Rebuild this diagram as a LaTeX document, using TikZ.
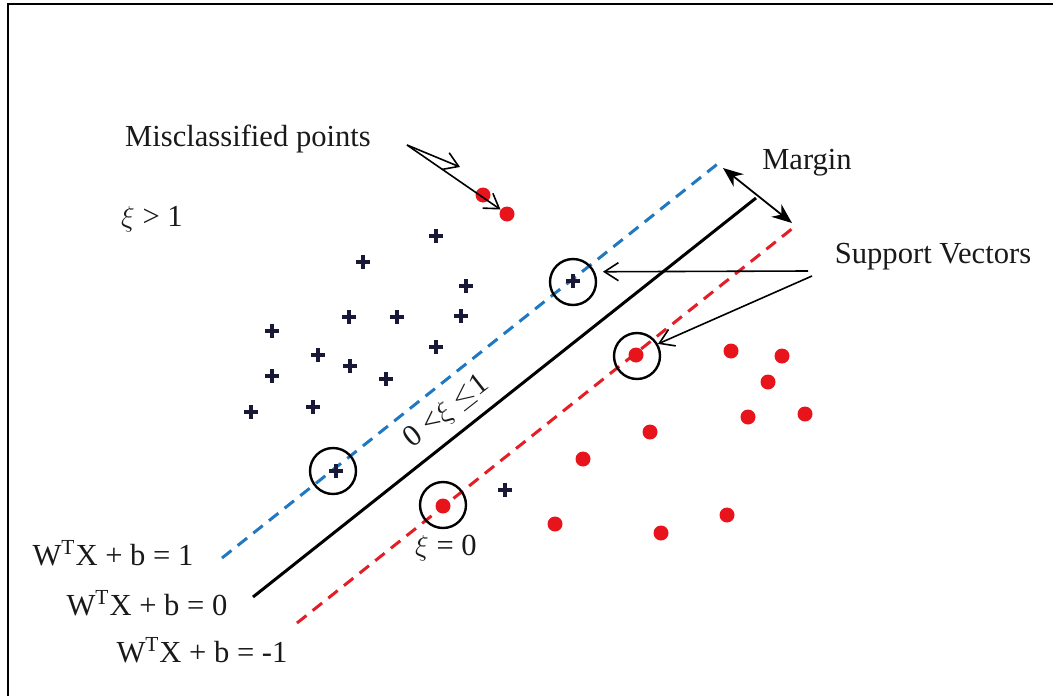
\documentclass[tikz,border=0pt]{standalone}
\usepackage{fontspec}
\setmainfont{Liberation Serif}
\usepackage{amsmath,amssymb}
\usetikzlibrary{arrows.meta,calc}

\definecolor{svblue}{RGB}{31,120,193}
\definecolor{svred}{RGB}{228,30,38}
\definecolor{dotred}{RGB}{232,20,28}
\definecolor{plusnavy}{RGB}{25,25,55}

\begin{document}
\begin{tikzpicture}[x=0.5pt,y=-0.5pt,
  lbl/.style={inner sep=0pt,text=black!90,font=\fontsize{15.3}{18}\selectfont},
  plusmark/.style={minimum size=7pt,inner sep=0pt,
    path picture={\draw[plusnavy,line width=2pt]
      (path picture bounding box.west) -- (path picture bounding box.east)
      (path picture bounding box.north) -- (path picture bounding box.south);}},
  reddot/.style={circle,fill=dotred,minimum size=7.5pt,inner sep=0pt},
  svring/.style={circle,draw,line width=1.2pt,minimum size=23pt,inner sep=0pt},
  thinarrow/.style={line width=0.8pt,-{Straight Barb[length=7pt,width=9pt]}},
  dashline/.style={line width=1.5pt,dash pattern=on 6pt off 4pt}]
  \useasboundingbox (0,0) rectangle (1053,696);
  \draw[line width=1pt] (8,696) -- (8,4) -- (1053,4);

  % Hyperplanes W^T X + b = 1, 0, -1
  \coordinate (B1) at (222,558);
  \coordinate (B2) at (720,162);
  \coordinate (H1) at (253,597);
  \coordinate (H2) at (756,198);
  \coordinate (R1) at (297,623);
  \coordinate (R2) at (793,228);
  \draw[svblue,dashline] (B1) -- (B2);
  \draw[line width=1.5pt] (H1) -- (H2);
  \draw[svred,dashline] (R1) -- (R2);

  % Margin, across the black line end
  \coordinate (M1) at (723,168);
  \coordinate (M2) at (792,223);
  \draw[line width=0.9pt,{Stealth[length=10pt,width=8pt]}-{Stealth[length=10pt,width=8pt]}] (M1) -- (M2);
  \node[lbl] (margin) at (807,163) {Margin};

  % Class +1
  \node[plusmark] (p1) at (436,236) {};
  \node[plusmark] (p2) at (363,262) {};
  \node[plusmark] (p3) at (466,286) {};
  \node[plusmark] (p4) at (573,281) {};
  \node[plusmark] (p5) at (349,317) {};
  \node[plusmark] (p6) at (397,317) {};
  \node[plusmark] (p7) at (461,316) {};
  \node[plusmark] (p8) at (272,331) {};
  \node[plusmark] (p9) at (318,355) {};
  \node[plusmark] (p10) at (350,366) {};
  \node[plusmark] (p11) at (436,347) {};
  \node[plusmark] (p12) at (272,376) {};
  \node[plusmark] (p13) at (386,379) {};
  \node[plusmark] (p14) at (313,407) {};
  \node[plusmark] (p15) at (251,412) {};
  \node[plusmark] (p16) at (336,471) {};
  \node[plusmark] (p17) at (505,490) {};

  % Class -1
  \node[reddot] (r1) at (483,195) {};
  \node[reddot] (r2) at (507,214) {};
  \node[reddot] (r3) at (636,355) {};
  \node[reddot] (r4) at (731,351) {};
  \node[reddot] (r5) at (782,356) {};
  \node[reddot] (r6) at (768,382) {};
  \node[reddot] (r7) at (748,417) {};
  \node[reddot] (r8) at (805,414) {};
  \node[reddot] (r9) at (650,432) {};
  \node[reddot] (r10) at (583,459) {};
  \node[reddot] (r11) at (443,506) {};
  \node[reddot] (r12) at (555,524) {};
  \node[reddot] (r13) at (661,533) {};
  \node[reddot] (r14) at (727,515) {};

  % Support vectors
  \node[svring] (ring1) at (573,282) {};
  \node[svring] (ring2) at (637,356) {};
  \node[svring] (ring3) at (333,471) {};
  \node[svring] (ring4) at (443,505) {};
  \node[lbl] (support) at (933,257) {Support Vectors};
  \coordinate (S1) at (808,271);
  \coordinate (S2) at (812,276);
  \draw[thinarrow,shorten >=4pt] (S1) -- (ring1.25);
  \draw[thinarrow] (S2) -- (ring2.30);

  % Misclassified points
  \node[lbl] (miscl) at (248,139) {Misclassified points};
  \coordinate (Mx) at (407,145);
  \coordinate (Mt) at (460,167);
  \draw[thinarrow] (Mx) -- (Mt);
  \draw[thinarrow] (Mx) -- (r2);

  % Slack labels
  \node[lbl] (xibig) at (152,219) {$\xi$ > 1};
  \node[lbl,rotate=38] (xiband) at (447,412) {0 <$\xi$ $\leq$1};
  \node[lbl] (xizero) at (446,548) {$\xi$ = 0};

  \node[lbl] (eqpos) at (113,553) {W\textsuperscript{T}X + b = 1};
  \node[lbl] (eqzero) at (147,603) {W\textsuperscript{T}X + b = 0};
  \node[lbl] (eqneg) at (202,650) {W\textsuperscript{T}X + b = -1};
\end{tikzpicture}
\end{document}
